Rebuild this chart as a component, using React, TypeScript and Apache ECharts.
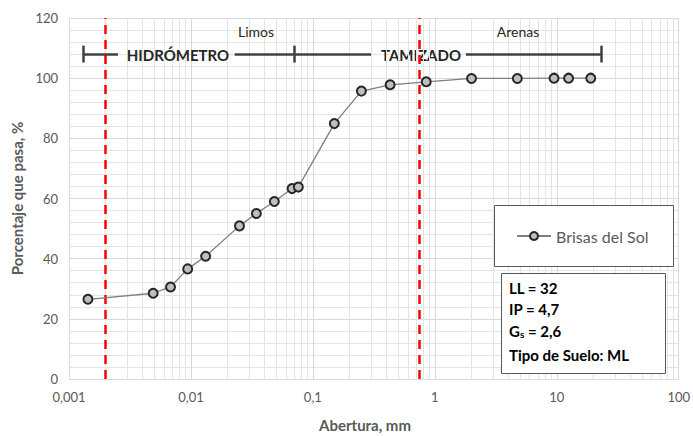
import React, { useEffect, useRef } from "react";
import * as echarts from "echarts";

// Data: abertura (mm) and % que pasa
const aberturas = [0.00143, 0.0049, 0.0068, 0.0094, 0.0132, 0.025, 0.0344, 0.0483, 0.0675, 0.076, 0.15, 0.25, 0.43, 0.85, 2.0, 4.75, 9.5, 12.5, 19.0];
const pasa = [26.5, 28.5, 30.6, 36.6, 40.8, 50.9, 55.0, 59.0, 63.3, 63.8, 84.9, 95.7, 97.8, 98.8, 99.9, 99.9, 100, 100, 100];

const serieNombre = "Brisas del Sol";
const lineasLimite = [0.002, 0.75];
const bracketY = 108;
const bracketSegmentos = [
  [0.0013, 0.00252],
  [0.0228, 0.3],
  [1.8, 23.2],
];
const bracketTicks = [0.0013, 0.0705, 23.2];
const minorDecades = [0.001, 0.01, 0.1, 1, 10];
const minorMults = [2, 3, 4, 5, 6, 7, 8, 9];
const infoLineas = ["LL = 32", "IP = 4,7", "Gs = 2,6", "Tipo de Suelo: ML"];

const FONT = "Lato, 'Open Sans', sans-serif";

export default function App() {
  const ref = useRef<HTMLDivElement>(null);
  useEffect(() => {
    if (!ref.current) return;
    const chart = echarts.init(ref.current, undefined, { renderer: "svg" });
    const minorVals: number[] = [];
    minorDecades.forEach((d) => minorMults.forEach((m) => minorVals.push(Number((d * m).toPrecision(6)))));

    const option: any = {
      animation: false,
      textStyle: { fontFamily: FONT },
      grid: { left: 69, right: 11, top: 18, bottom: 57 },
      xAxis: {
        type: "log",
        logBase: 10,
        min: 0.001,
        max: 100,
        axisLine: { show: false },
        axisTick: { show: false },
        splitLine: { show: true, lineStyle: { color: "#d9d9d9", width: 1 } },
        axisLabel: {
          color: "#595959",
          fontSize: 13,
          fontFamily: FONT,
          margin: 11,
          formatter: (v: number) => String(Number(v.toPrecision(6))).replace(".", ","),
        },
      },
      yAxis: {
        type: "value",
        min: 0,
        max: 120,
        interval: 20,
        name: "Porcentaje que pasa, %",
        nameLocation: "middle",
        nameGap: 44,
        nameTextStyle: { color: "#595959", fontSize: 15, fontWeight: "bold", fontFamily: FONT },
        axisLine: { show: false },
        axisTick: { show: false },
        splitLine: { show: true, lineStyle: { color: "#d9d9d9", width: 1 } },
        minorTick: { show: false, splitNumber: 5 },
        minorSplitLine: { show: true, lineStyle: { color: "#e4e4e4", width: 1 } },
        axisLabel: { color: "#595959", fontSize: 13, fontFamily: FONT, margin: 11 },
      },
      legend: {
        show: true,
        z: 20,
        left: 516,
        top: 228,
        itemWidth: 34,
        itemHeight: 10,
        itemGap: 4,
        padding: 0,
        textStyle: { color: "#595959", fontSize: 16, fontFamily: FONT },
        data: [serieNombre],
      },
      series: [
        {
          type: "line",
          name: "minorgrid",
          data: [],
          z: 1,
          silent: true,
          markLine: {
            silent: true,
            symbol: "none",
            label: { show: false },
            lineStyle: { color: "#e4e4e4", type: "solid", width: 1 },
            data: minorVals.map((v) => [{ coord: [v, 0] }, { coord: [v, 120] }]),
          },
        },
        {
          type: "line",
          name: "bracket",
          data: [],
          z: 4,
          silent: true,
          markLine: {
            silent: true,
            symbol: "none",
            label: { show: false },
            lineStyle: { color: "#404040", type: "solid", width: 2.5 },
            data: [
              ...bracketSegmentos.map((s) => [{ coord: [s[0], bracketY] }, { coord: [s[1], bracketY] }]),
              ...bracketTicks.map((t) => [{ coord: [t, bracketY - 2.8] }, { coord: [t, bracketY + 2.8] }]),
            ],
          },
        },
        {
          type: "line",
          name: serieNombre,
          data: aberturas.map((a, i) => [a, pasa[i]]),
          z: 5,
          symbol: "circle",
          symbolSize: 9,
          showAllSymbol: true,
          lineStyle: { color: "#7f7f7f", width: 1.3 },
          itemStyle: { color: "#bfbfbf", borderColor: "#262626", borderWidth: 2 },
        },
        {
          type: "line",
          name: "limites",
          data: [],
          z: 6,
          silent: true,
          markLine: {
            silent: true,
            symbol: "none",
            label: { show: false },
            lineStyle: { color: "#ff0000", type: [9, 6], width: 2.5 },
            data: lineasLimite.map((v) => [{ coord: [v, 0] }, { coord: [v, 120] }]),
          },
        },
      ],
      graphic: [
        { type: "rect", z: 10, shape: { x: 494.5, y: 205.5, width: 179, height: 61 }, style: { fill: "#fff", stroke: "#595959", lineWidth: 1 } },
        { type: "rect", z: 10, shape: { x: 501.5, y: 273.5, width: 164, height: 100 }, style: { fill: "#fff", stroke: "#595959", lineWidth: 1 } },
        {
          type: "text", z: 11, x: 509, y: 288,
          style: { text: infoLineas[0], font: `bold 15px ${FONT}`, fill: "#000", verticalAlign: "middle" },
        },
        {
          type: "text", z: 11, x: 509, y: 309,
          style: { text: infoLineas[1], font: `bold 15px ${FONT}`, fill: "#000", verticalAlign: "middle" },
        },
        {
          type: "text", z: 11, x: 509, y: 331,
          style: {
            text: "{b|G}{s|s}{b| = 2,6}",
            fill: "#000",
            verticalAlign: "middle",
            rich: {
              b: { font: `bold 15px ${FONT}`, fill: "#000" },
              s: { font: `bold 10px ${FONT}`, fill: "#000", padding: [5, 0, 0, 0] },
            },
          },
        },
        {
          type: "text", z: 11, x: 509, y: 355,
          style: { text: infoLineas[3], font: `bold 15px ${FONT}`, fill: "#000", verticalAlign: "middle" },
        },
        { type: "text", z: 11, x: 178, y: 55, style: { text: "HIDRÓMETRO", font: `bold 15px ${FONT}`, fill: "#262626", align: "center", verticalAlign: "middle" } },
        { type: "text", z: 5, x: 421, y: 55, style: { text: "TAMIZADO", font: `bold 15px ${FONT}`, fill: "#262626", align: "center", verticalAlign: "middle" } },
        { type: "text", z: 11, x: 256, y: 31, style: { text: "Limos", font: `14px ${FONT}`, fill: "#262626", align: "center", verticalAlign: "middle" } },
        { type: "text", z: 11, x: 518, y: 31, style: { text: "Arenas", font: `14px ${FONT}`, fill: "#262626", align: "center", verticalAlign: "middle" } },
        { type: "text", z: 11, x: 365, y: 425, style: { text: "Abertura, mm", font: `bold 15px ${FONT}`, fill: "#595959", align: "center", verticalAlign: "middle" } },
      ],
    };
    chart.setOption(option);
    return () => chart.dispose();
  }, []);
  return <div ref={ref} style={{ width: 693, height: 436, position: "absolute", left: 0, top: 0 }} />;
}
